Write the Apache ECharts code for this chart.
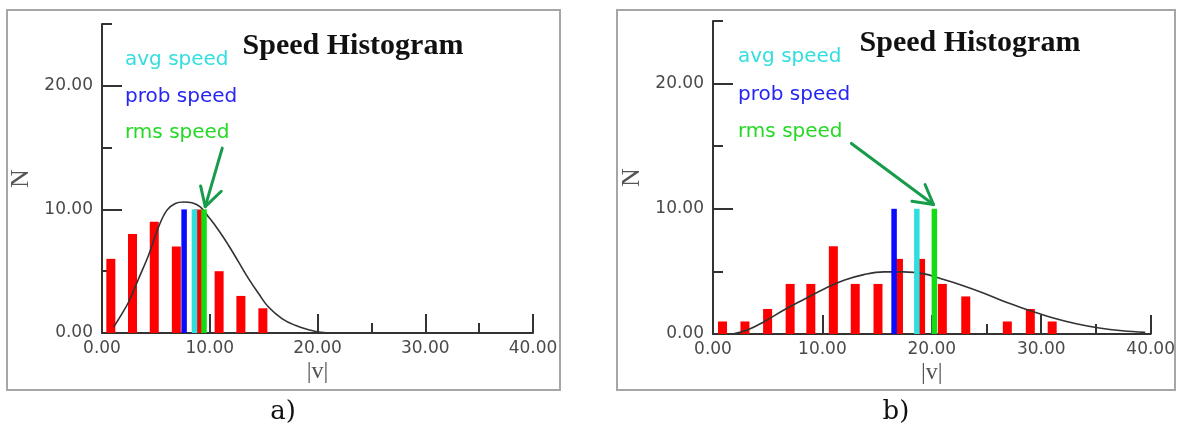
<!DOCTYPE html>
<html>
<head>
<meta charset="utf-8">
<title>Speed Histogram</title>
<script src="https://cdn.jsdelivr.net/npm/echarts@6.0.0/dist/echarts.min.js"></script>
<style>
    html, body { margin: 0; padding: 0; background: #fff; }
    #speedChart { width: 1178px; height: 430px; }
</style>
</head>
<body>
<div id="speedChart"></div>
<script>
    // a) histogram bins (|v| centre, count)
    const binSpeedA = [0.82, 2.83, 4.85, 6.9, 8.96, 10.87, 12.89, 14.93];
    const binCountA = [6, 8, 9, 7, 10, 5, 3, 2];
    // a) fitted curve
    const curveSpeedA = [1.08, 1.86, 2.47, 3.4, 4.32, 5.25, 6.03, 6.8, 7.57, 8.35, 9.12, 9.89, 10.82, 11.74, 12.67, 13.6, 14.53, 15.45, 16.7, 17.93, 19.17, 20.3, 21.4];
    const curveCountA = [0.49, 1.57, 2.51, 4.4, 6.29, 8.58, 9.94, 10.48, 10.6, 10.53, 10.2, 9.39, 8.32, 7.1, 5.75, 4.4, 3.19, 2.1, 1.17, 0.62, 0.27, 0.05, 0];
    // a) prob / avg / rms speed
    const markSpeedA = [7.62, 8.58, 9.47];

    // b) histogram bins
    const binSpeedB = [0.87, 2.92, 4.99, 7.05, 8.94, 11.0, 13.0, 15.08, 16.95, 18.97, 20.96, 23.1, 26.9, 29.0, 31.0];
    const binCountB = [1, 1, 2, 4, 4, 7, 4, 4, 6, 6, 4, 3, 1, 2, 1];
    // b) fitted curve
    const curveSpeedB = [1.8, 3.18, 4.7, 6.52, 8.34, 10.15, 11.97, 13.79, 15.6, 17.4, 19.2, 20.9, 22.6, 24.7, 26.8, 28.9, 31.1, 33.2, 35.3, 37.4, 39.5];
    const curveCountB = [0, 0.34, 1.0, 1.94, 2.78, 3.6, 4.29, 4.74, 4.96, 4.96, 4.82, 4.4, 3.94, 3.28, 2.53, 1.89, 1.28, 0.82, 0.48, 0.26, 0.13];
    const markSpeedB = [16.55, 18.63, 20.23];

    const markNames = ['prob speed', 'avg speed', 'rms speed'];
    const markHeight = 10;

    // green arrows pointing at the rms line: [v, N]
    const arrowA = [[11.16, 14.96], [9.58, 10.22]];
    const arrowHeadA = [[9.15, 11.9], [9.58, 10.22], [11.07, 11.47]];
    const arrowB = [[12.65, 15.22], [20.15, 10.34]];
    const arrowHeadB = [[19.38, 11.94], [20.15, 10.34], [18.18, 10.61]];

    const xTicks = [0, 10, 20, 30, 40];
    const xMinorTicks = [5, 15, 25, 35];
    const yTicks = [0, 10, 20];
    const yMinorTicks = [5, 15, 25];

    const markColors = ['#0a0aff', '#2fdede', '#12dd12'];
    const legendColors = ['#33dede', '#2626f2', '#26d826']; // avg, prob, rms
    const axisColor = '#333';
    const labelColor = '#4a4a4a';

    function zip(a, b) {
        return a.map((v, i) => [v, b[i]]);
    }

    function rectItem(width, color) {
        return function (params, api) {
            const top = api.coord([api.value(0), api.value(1)]);
            const base = api.coord([api.value(0), 0]);
            return {
                type: 'rect',
                shape: {x: top[0] - width / 2, y: top[1], width: width, height: base[1] - top[1]},
                style: {fill: color}
            };
        };
    }

    const panels = [
        {grid: {left: 102, top: 24, width: 431, height: 309}, bins: zip(binSpeedA, binCountA),
            curve: zip(curveSpeedA, curveCountA), marks: markSpeedA, arrow: arrowA, head: arrowHeadA},
        {grid: {left: 713, top: 21, width: 440, height: 313}, bins: zip(binSpeedB, binCountB),
            curve: zip(curveSpeedB, curveCountB), marks: markSpeedB, arrow: arrowB, head: arrowHeadB}
    ];

    const grids = [], xAxes = [], yAxes = [], series = [];
    panels.forEach((p, i) => {
        grids.push(p.grid);
        xAxes.push({
            type: 'value', gridIndex: i, min: 0, max: 40, interval: 10,
            name: '|v|', nameLocation: 'middle', nameGap: 27, nameMoveOverlap: false,
            nameTextStyle: {fontFamily: 'Liberation Serif', fontSize: 24, color: '#555'},
            axisLine: {lineStyle: {color: axisColor, width: 2}},
            axisTick: {inside: true, length: 19, customValues: xTicks, lineStyle: {color: axisColor, width: 2}},
            axisLabel: {customValues: xTicks, margin: 7, fontFamily: 'DejaVu Sans', fontSize: 17, color: labelColor,
                formatter: v => v.toFixed(2)},
            splitLine: {show: false}
        }, {
            type: 'value', gridIndex: i, position: 'bottom', min: 0, max: 40, interval: 10,
            axisLine: {show: false},
            axisTick: {inside: true, length: 10, customValues: xMinorTicks, lineStyle: {color: axisColor, width: 2}},
            axisLabel: {show: false},
            splitLine: {show: false}
        });
        yAxes.push({
            type: 'value', gridIndex: i, min: 0, max: 25, interval: 10,
            name: 'N', nameLocation: 'middle', nameGap: 68, nameMoveOverlap: false,
            nameTextStyle: {fontFamily: 'Liberation Serif', fontSize: 26, color: '#555'},
            axisLine: {show: true, lineStyle: {color: axisColor, width: 2}},
            axisTick: {show: true, inside: true, length: 20, customValues: yTicks, lineStyle: {color: axisColor, width: 2}},
            axisLabel: {customValues: yTicks, margin: 9, fontFamily: 'DejaVu Sans', fontSize: 17, color: labelColor,
                formatter: v => v.toFixed(2)},
            splitLine: {show: false}
        }, {
            type: 'value', gridIndex: i, position: 'left', min: 0, max: 25, interval: 10,
            axisLine: {show: false},
            axisTick: {show: true, inside: true, length: 10, customValues: yMinorTicks, lineStyle: {color: axisColor, width: 2}},
            axisLabel: {show: false},
            splitLine: {show: false}
        });

        const xi = 2 * i, yi = 2 * i;
        series.push({
            type: 'custom', name: 'histogram', xAxisIndex: xi, yAxisIndex: yi, z: 2,
            renderItem: rectItem(9, '#ff0000'), data: p.bins
        });
        series.push({
            type: 'line', name: 'fit', xAxisIndex: xi, yAxisIndex: yi, z: 3,
            smooth: 0.4, showSymbol: false, data: p.curve,
            lineStyle: {color: '#333', width: 1.6}
        });
        p.marks.forEach((v, k) => {
            series.push({
                type: 'custom', name: markNames[k], xAxisIndex: xi, yAxisIndex: yi, z: 4,
                renderItem: rectItem(5.5, markColors[k]), data: [[v, markHeight]]
            });
        });
        [p.arrow, p.head].forEach(d => {
            series.push({
                type: 'line', name: 'arrow', xAxisIndex: xi, yAxisIndex: yi, z: 5,
                showSymbol: false, data: d, lineStyle: {color: '#179c4c', width: 3, cap: 'round', join: 'round'}
            });
        });
    });

    const legendPos = [{x: 125, y: [60, 97, 133]}, {x: 738, y: [57, 95, 132]}];
    const legendText = ['avg speed', 'prob speed', 'rms speed'];
    const graphics = [
        {type: 'rect', z: 100, shape: {x: 7, y: 10, width: 553, height: 380},
            style: {fill: 'none', stroke: '#a6a6a6', lineWidth: 2}},
        {type: 'rect', z: 100, shape: {x: 617, y: 10, width: 558, height: 380},
            style: {fill: 'none', stroke: '#a6a6a6', lineWidth: 2}},
        {type: 'text', x: 283, y: 412, style: {text: 'a)', fill: '#111', font: '26px "DejaVu Serif"', align: 'center', verticalAlign: 'middle'}},
        {type: 'text', x: 896, y: 412, style: {text: 'b)', fill: '#111', font: '26px "DejaVu Serif"', align: 'center', verticalAlign: 'middle'}}
    ];
    legendPos.forEach(lp => {
        legendText.forEach((t, k) => {
            graphics.push({type: 'text', x: lp.x, y: lp.y[k],
                style: {text: t, fill: legendColors[k], font: '20px "DejaVu Sans"', align: 'left', verticalAlign: 'middle'}});
        });
    });

    const option = {
        animation: false,
        backgroundColor: '#fff',
        title: [
            {text: 'Speed Histogram', left: 353, top: 46, textAlign: 'center', textVerticalAlign: 'middle', padding: 0,
                textStyle: {fontFamily: 'Liberation Serif', fontWeight: 'bold', fontSize: 30, color: '#111'}},
            {text: 'Speed Histogram', left: 970, top: 43, textAlign: 'center', textVerticalAlign: 'middle', padding: 0,
                textStyle: {fontFamily: 'Liberation Serif', fontWeight: 'bold', fontSize: 30, color: '#111'}}
        ],
        grid: grids,
        xAxis: xAxes,
        yAxis: yAxes,
        series: series,
        graphic: graphics
    };

    const myChart = echarts.init(document.getElementById('speedChart'));
    myChart.setOption(option);
</script>
</body>
</html>
